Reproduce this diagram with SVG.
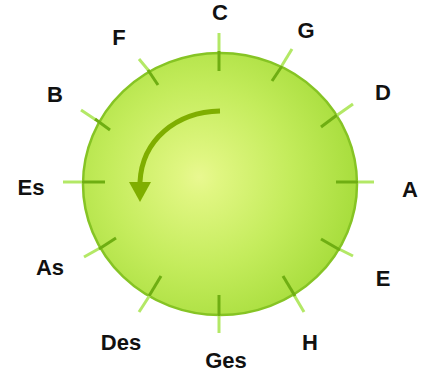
<svg xmlns="http://www.w3.org/2000/svg" width="428" height="374" viewBox="0 0 428 374">
<defs>
<radialGradient id="disc" gradientUnits="userSpaceOnUse" cx="199" cy="177" r="165">
<stop offset="0" stop-color="#e9f890"/>
<stop offset="0.12" stop-color="#e0f681"/>
<stop offset="0.55" stop-color="#c4ec5c"/>
<stop offset="1" stop-color="#a5dc3a"/>
</radialGradient>
<style>
.lbl{font-family:"Liberation Sans",Arial,sans-serif;font-weight:bold;font-size:22px;fill:#111;text-anchor:middle}
.ti{stroke:#6fae12;stroke-width:3}
.to{stroke:#b3e866;stroke-width:3}
</style>
</defs>
<g id="circle">
<ellipse cx="220" cy="184" rx="137" ry="131" fill="url(#disc)" stroke="#86c424" stroke-width="2.5"/>
</g>
<g id="connectors">
<path d="M220,111 C176,112 142,140 140,182" fill="none" stroke="#7fae00" stroke-width="5"/>
<path d="M129,182 L151,182 L140,202 Z" fill="#7fae00"/>
</g>
<g id="node-C"><line class="to" x1="219" y1="52" x2="219" y2="33"/><line class="ti" x1="219" y1="71" x2="219" y2="51"/><text class="lbl" x="220" y="20">C</text></g>
<g id="node-G"><line class="to" x1="281" y1="67" x2="292" y2="49"/><line class="ti" x1="272" y1="81" x2="282" y2="66"/><text class="lbl" x="306" y="38">G</text></g>
<g id="node-D"><line class="to" x1="336" y1="116" x2="353" y2="104"/><line class="ti" x1="321" y1="127" x2="337" y2="115"/><text class="lbl" x="383" y="100">D</text></g>
<g id="node-A"><line class="to" x1="357" y1="182" x2="374" y2="182"/><line class="ti" x1="336" y1="182" x2="358" y2="182"/><text class="lbl" x="410" y="197">A</text></g>
<g id="node-E"><line class="to" x1="339" y1="249" x2="353" y2="256"/><line class="ti" x1="321" y1="239" x2="340" y2="250"/><text class="lbl" x="383" y="286">E</text></g>
<g id="node-H"><line class="to" x1="294" y1="295" x2="304" y2="312"/><line class="ti" x1="283" y1="276" x2="295" y2="296"/><text class="lbl" x="310" y="350">H</text></g>
<g id="node-Ges"><line class="to" x1="219" y1="315" x2="219" y2="333"/><line class="ti" x1="219" y1="295" x2="219" y2="316"/><text class="lbl" x="226" y="368">Ges</text></g>
<g id="node-Des"><line class="to" x1="150" y1="295" x2="139" y2="312"/><line class="ti" x1="161" y1="276" x2="149" y2="296"/><text class="lbl" x="121" y="350">Des</text></g>
<g id="node-As"><line class="to" x1="100" y1="248" x2="84" y2="257"/><line class="ti" x1="116" y1="238" x2="99" y2="249"/><text class="lbl" x="50" y="275">As</text></g>
<g id="node-Es"><line class="to" x1="83" y1="182" x2="63" y2="182"/><line class="ti" x1="105" y1="182" x2="82" y2="182"/><text class="lbl" x="31" y="195">Es</text></g>
<g id="node-B"><line class="to" x1="96" y1="120" x2="81" y2="110"/><line class="ti" x1="110" y1="130" x2="95" y2="119"/><text class="lbl" x="55" y="102">B</text></g>
<g id="node-F"><line class="to" x1="149" y1="71" x2="139" y2="59"/><line class="ti" x1="158" y1="85" x2="148" y2="70"/><text class="lbl" x="119" y="45">F</text></g>
</svg>
